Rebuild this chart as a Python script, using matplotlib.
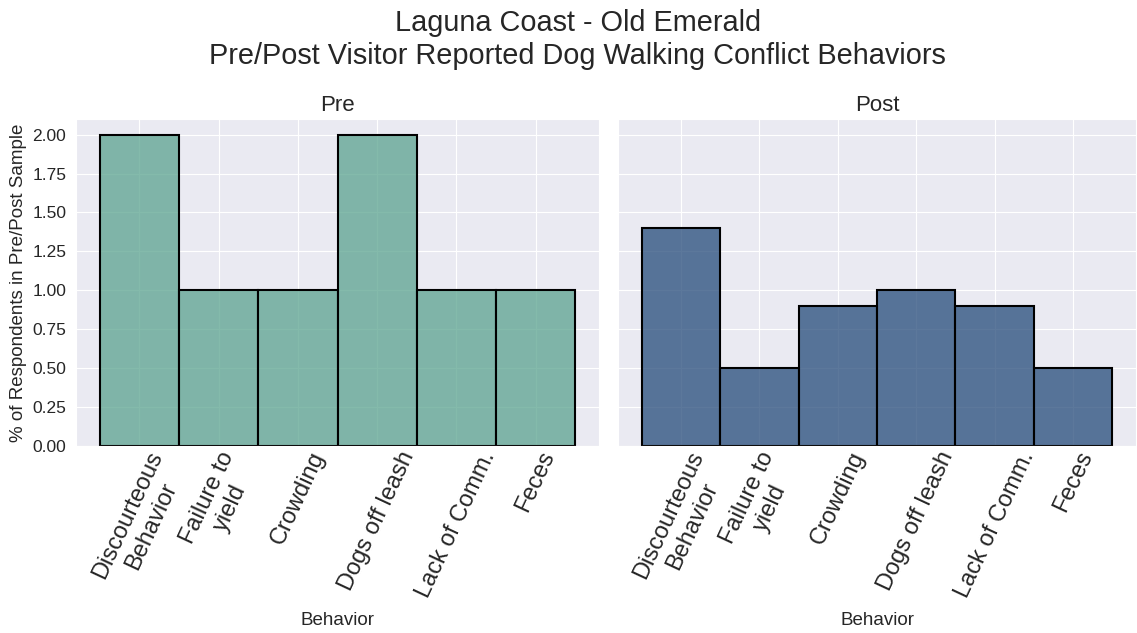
import numpy as np
import matplotlib
matplotlib.use("Agg")
import matplotlib.pyplot as plt
from matplotlib.colors import to_rgba
import seaborn as sns

# data
behaviors = ["Discourteous\nBehavior", "Failure to\nyield", "Crowding",
             "Dogs off leash", "Lack of Comm.", "Feces"]
pre_values = [2.0, 1.0, 1.0, 2.0, 1.0, 1.0]
post_values = [1.4, 0.5, 0.9, 1.0, 0.9, 0.5]

sns.set_style("darkgrid")
plt.rcParams['font.family'] = ['Liberation Sans', 'DejaVu Sans']


def draw_panel(ax, values, color, title):
    x = np.arange(len(values))
    ax.bar(x, values, width=1.0, facecolor=to_rgba(color, 0.75),
           edgecolor="black", linewidth=1.5)
    ax.set_title(title, fontsize=16)
    ax.set_xticks(x)
    ax.set_xticklabels(behaviors, rotation=65, fontsize=17)
    ax.set_xlim(-0.8, 5.8)
    ax.set_xlabel("Behavior", fontsize=13.5, labelpad=8)
    ax.tick_params(axis="y", labelsize=12.5)
    ax.tick_params(axis="x", pad=-2)


W, H = 1137, 633
fig = plt.figure(figsize=(11.37, 6.33), dpi=100)
ax1 = fig.add_axes([76 / W, 1 - 446 / H, 523 / W, 327 / H])
ax2 = fig.add_axes([618 / W, 1 - 446 / H, 518 / W, 327 / H], sharey=ax1)
plt.setp(ax2.get_yticklabels(), visible=False)

draw_panel(ax1, pre_values, "#5ba38f", "Pre")
draw_panel(ax2, post_values, "#254b7a", "Post")
ax1.set_ylim(0, 2.1)
ax1.set_ylabel("% of Respondents in Pre/Post Sample", fontsize=13.5)

fig.suptitle("Laguna Coast - Old Emerald\n"
             "Pre/Post Visitor Reported Dog Walking Conflict Behaviors",
             fontsize=20.8, x=0.508, y=0.985)

fig.savefig("out.png", dpi=100)
